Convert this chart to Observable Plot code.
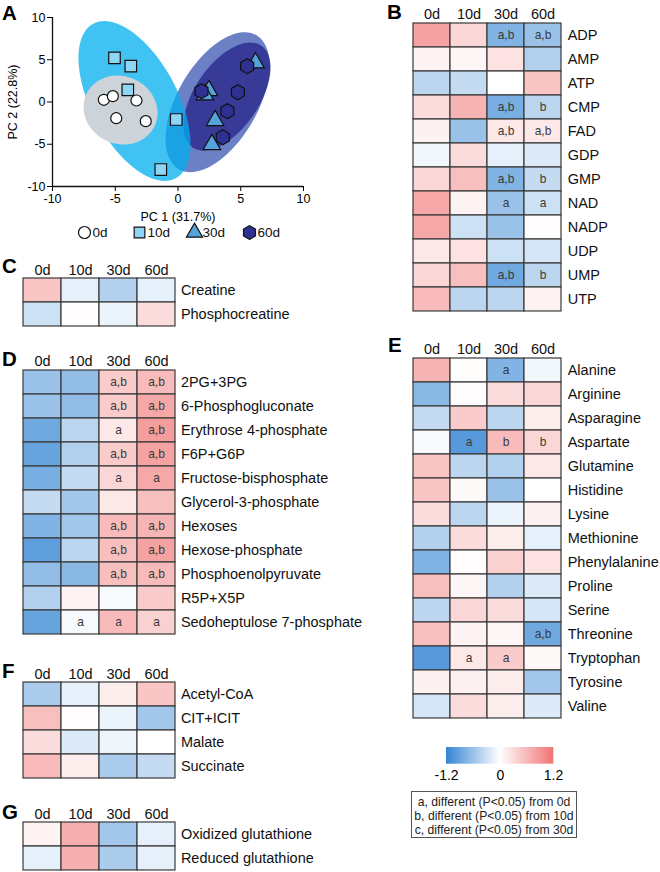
<!DOCTYPE html>
<html><head><meta charset="utf-8">
<script src="https://cdn.jsdelivr.net/npm/d3@7"></script>
<script src="https://cdn.jsdelivr.net/npm/@observablehq/plot@0.6"></script>
<style>
body{margin:0;background:#fff;font-family:"Liberation Sans",Arial,sans-serif;}
#root{position:relative;width:660px;height:872px;overflow:hidden;background:#fff;}
#cbar line{display:none}
#cbar text{font-size:14px;font-family:"Liberation Sans",Arial,sans-serif;fill:#000}
.box{position:absolute;box-sizing:border-box;border:1px solid #555;text-align:center;font-size:12.2px;line-height:14.3px;padding-top:3px;color:#222;}
</style></head>
<body><div id="root"></div>
<script>
const FONT = '"Liberation Sans", Arial, sans-serif';
// ---------- Panel A data ----------
const groups = ["0d","10d","30d","60d"];
const groupFill = ["#ffffff","#8fd6f6","#55a3db","#2e3192"];
const groupSymbol = ["circle","square","triangle","hexagon"];
const pc1_0d = [-5.91,-5.19,-3.31,-4.92,-2.57];
const pc2_0d = [0.26,0.69,0.18,-1.92,-2.27];
const pc1_10d = [-5.06,-3.76,-4.0,-0.14,-1.37];
const pc2_10d = [5.23,4.24,1.44,-2.07,-7.99];
const pc1_30d = [6.18,2.46,2.14,2.96,2.70];
const pc2_30d = [4.64,1.36,0.85,-2.19,-5.03];
const pc1_60d = [5.51,1.87,4.77,3.94,3.57];
const pc2_60d = [4.24,1.28,1.16,-1.09,-4.17];
// ellipse params (drawing order), semi-axes in PC1 units, angle in degrees
const ellGroup = ["30d","60d","10d","0d"];
const ellCx = [3.15,3.90,-3.47,-4.58];
const ellCy = [-0.02,0.65,0.12,-0.95];
const ellA = [6.17,4.89,6.98,3.0];
const ellB = [3.19,2.57,3.43,2.69];
const ellAngle = [60,56,-62,-25];
const ellFill = ["#6b80c5","#373b97","#00aeef","#cdd4d9"];
const ellOpacity = [1,1,0.75,1];
const pcTicks = [-10,-5,0,5,10];

// ---------- Heatmap data ----------
const days = ["0d","10d","30d","60d"];
const colorDomain = [-1.2,0,1.2];
const colorRange = ["#3585d3","#ffffff","#f07474"];

const bNames = ["ADP","AMP","ATP","CMP","FAD","GDP","GMP","NAD","NADP","UDP","UMP","UTP"];
const bValues = [[0.8,0.35,-0.75,-0.6],[0.1,0.08,0.25,-0.45],[-0.4,-0.35,0.0,0.5],[0.3,0.65,-0.8,-0.4],[0.12,-0.6,0.2,0.2],[-0.08,0.3,-0.15,-0.2],[0.35,0.55,-0.75,-0.35],[0.75,0.1,-0.6,-0.3],[0.75,-0.3,-0.6,0.02],[0.2,0.25,-0.3,-0.25],[0.35,0.55,-0.85,-0.4],[0.6,-0.4,-0.4,0.1]];
const bSig = [["","","a,b","a,b"],["","","",""],["","","",""],["","","a,b","b"],["","","a,b","a,b"],["","","",""],["","","a,b","b"],["","","a","a"],["","","",""],["","","",""],["","","a,b","b"],["","","",""]];

const cNames = ["Creatine","Phosphocreatine"];
const cValues = [[0.5,-0.15,-0.45,-0.15],[-0.3,0.02,-0.12,0.3]];
const cSig = [["","","",""],["","","",""]];

const dNames = ["2PG+3PG","6-Phosphogluconate","Erythrose 4-phosphate","F6P+G6P","Fructose-bisphosphate","Glycerol-3-phosphate","Hexoses","Hexose-phosphate","Phosphoenolpyruvate","R5P+X5P","Sedoheptulose 7-phosphate"];
const dValues = [[-0.6,-0.65,0.45,0.6],[-0.6,-0.65,0.45,0.75],[-0.85,-0.4,0.2,0.85],[-0.9,-0.45,0.45,0.8],[-0.8,-0.35,0.35,0.75],[-0.35,-0.55,0.2,0.55],[-0.75,-0.55,0.6,0.65],[-0.95,-0.4,0.55,0.8],[-0.65,-0.7,0.55,0.6],[-0.45,0.1,-0.05,0.45],[-0.9,-0.05,0.6,0.4]];
const dSig = [["","","a,b","a,b"],["","","a,b","a,b"],["","","a","a,b"],["","","a,b","a,b"],["","","a","a"],["","","",""],["","","a,b","a,b"],["","","a,b","a,b"],["","","a,b","a,b"],["","","",""],["","a","a","a"]];

const eNames = ["Alanine","Arginine","Asparagine","Aspartate","Glutamine","Histidine","Lysine","Methionine","Phenylalanine","Proline","Serine","Threonine","Tryptophan","Tyrosine","Valine"];
const eValues = [[0.65,0.03,-0.75,-0.08],[-0.7,0.02,0.3,0.35],[-0.35,0.45,-0.4,0.15],[-0.05,-1.0,0.6,0.35],[0.5,-0.4,-0.45,0.2],[0.5,0.05,-0.6,0.0],[0.3,-0.4,-0.12,0.12],[-0.45,0.3,0.15,-0.15],[-0.75,0.02,0.4,0.25],[0.55,0.08,-0.45,-0.2],[-0.4,0.35,0.3,-0.25],[0.55,0.1,0.08,-0.85],[-1.0,0.2,0.45,0.05],[0.12,0.12,0.15,-0.55],[-0.25,0.3,0.15,-0.2]];
const eSig = [["","","a",""],["","","",""],["","","",""],["","a","b","b"],["","","",""],["","","",""],["","","",""],["","","",""],["","","",""],["","","",""],["","","",""],["","","","a,b"],["","a","a",""],["","","",""],["","","",""]];

const fNames = ["Acetyl-CoA","CIT+ICIT","Malate","Succinate"];
const fValues = [[-0.5,-0.15,0.15,0.5],[0.55,0.02,-0.12,-0.55],[0.3,-0.2,-0.1,0.0],[0.6,0.15,-0.5,-0.35]];
const fSig = [["","","",""],["","","",""],["","","",""],["","","",""]];

const gNames = ["Oxidized glutathione","Reduced glutathione"];
const gValues = [[0.1,0.7,-0.55,-0.15],[-0.15,0.7,-0.5,-0.15]];
const gSig = [["","","",""],["","","",""]];

const noteLines = ["a, different (P<0.05) from 0d","b, different (P<0.05) from 10d","c, different (P<0.05) from 30d"];

// ---------- build ----------
const root = document.getElementById("root");
function place(el, left, top){ el.style.position="absolute"; el.style.left=left+"px"; el.style.top=top+"px"; root.append(el); }

// Panel A
const PW = 320, PH = 228, mL = 52, mR = 17, mT = 17, mB = 42;
const kAspect = ((PW-mL-mR)/20)/((PH-mT-mB)/20);
const points = [];
[[pc1_0d,pc2_0d],[pc1_10d,pc2_10d],[pc1_30d,pc2_30d],[pc1_60d,pc2_60d]].forEach(([xs,ys],gi)=>{
  xs.forEach((x,i)=>points.push({group:groups[gi], pc1:x, pc2:ys[i]}));
});
const ellMarks = ellGroup.map((g,i)=>{
  const th = ellAngle[i]*Math.PI/180;
  const pts = d3.range(0,361,4).map(deg=>{
    const t = deg*Math.PI/180;
    const u = ellA[i]*Math.cos(t)*Math.cos(th) - ellB[i]*Math.sin(t)*Math.sin(th);
    const v = ellA[i]*Math.cos(t)*Math.sin(th) + ellB[i]*Math.sin(t)*Math.cos(th);
    return {x: ellCx[i]+u, y: ellCy[i]+v*kAspect};
  });
  return Plot.line(pts,{x:"x",y:"y",fill:ellFill[i],fillOpacity:ellOpacity[i],stroke:"none",curve:"linear-closed"});
});
const pca = Plot.plot({
  width: PW, height: PH, marginLeft: mL, marginRight: mR, marginTop: mT, marginBottom: mB,
  style: {fontSize:"12.5px", fontFamily: FONT, overflow:"visible", background:"transparent"},
  x: {domain:[-10,10], ticks: pcTicks, tickSize:5, tickPadding:3, tickFormat:d=>String(d), label:"PC 1 (31.7%)", labelAnchor:"center", labelArrow:"none", labelOffset:34},
  y: {domain:[-10,10], ticks: pcTicks, tickSize:5, tickPadding:2, tickFormat:d=>String(d), label:"PC 2 (22.8%)", labelAnchor:"center", labelArrow:"none", labelOffset:44},
  color: {domain: groups, range: groupFill},
  symbol: {domain: groups, range: groupSymbol},
  marks: [
    ...ellMarks,
    Plot.ruleX([-10],{stroke:"#111",strokeWidth:1.3}),
    Plot.ruleY([-10],{stroke:"#111",strokeWidth:1.3}),
    Plot.dot(points.filter(d=>d.group==="0d"),{x:"pc1",y:"pc2",symbol:"group",fill:"group",stroke:"#111",strokeWidth:1.2,r:5.5}),
    Plot.dot(points.filter(d=>d.group!=="0d"),{x:"pc1",y:"pc2",symbol:"group",fill:"group",stroke:"#111",strokeWidth:1.2,r:6.5})
  ]
});
place(pca,0,0);

// Panel A legend
const leg = Plot.plot({
  width: 300, height: 20, margin: 0,
  style: {fontSize:"13.5px", fontFamily: FONT, overflow:"visible", background:"transparent"},
  x: {type:"point", domain: groups, range:[84,249], padding:0, axis:null},
  color: {domain: groups, range: groupFill},
  symbol: {domain: groups, range: groupSymbol},
  marks: [
    Plot.dot(groups,{x:d=>d, symbol:d=>d, fill:d=>d, stroke:"#111", strokeWidth:1.2, r: 6}),
    Plot.text(groups,{x:d=>d, text:d=>d, dx:8, textAnchor:"start", fill:"#111"})
  ]
});
place(leg,0,222);

// Heatmaps
const rowH = 24.17;
function heatmap(names, values, sigs, left, top, colW, mRight){
  const data = names.flatMap((n,i)=>days.map((d,j)=>({name:n, day:d, value:values[i][j], sig:sigs[i][j]})));
  const l=2, t=24, b=2;
  const W = colW*4, H = rowH*names.length;
  const p = Plot.plot({
    width: l+W+mRight, height: t+H+b, marginLeft:l, marginRight:mRight, marginTop:t, marginBottom:b,
    style: {fontSize:"14.5px", fontFamily: FONT, overflow:"visible", background:"transparent", color:"#111"},
    x: {domain: days, axis:"top", tickSize:0, tickPadding:3.5, label:null, padding:0},
    y: {domain: names, axis:"right", tickSize:0, tickPadding:5, label:null, padding:0},
    color: {type:"linear", domain: colorDomain, range: colorRange, clamp:true, interpolate:"rgb"},
    marks: [
      Plot.cell(data,{x:"day", y:"name", fill:"value", stroke:"#3a3a3a", strokeWidth:1.2, inset:0}),
      Plot.text(data,{x:"day", y:"name", text:"sig", fill:"#3a3a3a", fontSize:12})
    ]
  });
  place(p, left-l, top-t);
}
heatmap(bNames,bValues,bSig,411,21.7,37.8,95);
heatmap(cNames,cValues,cSig,23.3,277.7,38.1,140);
heatmap(dNames,dValues,dSig,23.3,369.3,38.1,200);
heatmap(eNames,eValues,eSig,411,356.7,37.8,95);
heatmap(fNames,fValues,fSig,23.3,681.5,38.1,140);
heatmap(gNames,gValues,gSig,23.3,822,38.1,160);

// Color bar
const cb = Plot.legend({
  color: {type:"linear", domain: colorDomain, range: colorRange, interpolate:"rgb"},
  width: 147.3, height: 36.7, marginLeft: 20, marginRight: 20, marginTop: 0, marginBottom: 20,
  ticks: colorDomain, tickSize: 3, tickFormat: d => d===0 ? "0" : d.toFixed(1), label: null
});
const cbWrap = document.createElement("div");
cbWrap.id = "cbar";
cbWrap.append(cb);
place(cbWrap, 426, 746.7);

// Note box
const box = document.createElement("div");
box.className = "box";
box.style.width = "166px"; box.style.height = "47.5px";
box.innerHTML = noteLines.map(s=>s.replace(/</g,"&lt;")).join("<br>");
place(box, 411, 790.5);

// Panel letters
const letters = [["A",2,20],["B",387,18.5],["C",2,273],["D",2,366],["E",388,352],["F",2,678],["G",2,819]];
const svgNS = "http://www.w3.org/2000/svg";
const ov = document.createElementNS(svgNS,"svg");
ov.setAttribute("width",660); ov.setAttribute("height",872);
ov.style.position="absolute"; ov.style.left="0"; ov.style.top="0"; ov.style.pointerEvents="none";
letters.forEach(([s,x,y])=>{
  const t = document.createElementNS(svgNS,"text");
  t.setAttribute("x",x); t.setAttribute("y",y);
  t.setAttribute("font-family","Liberation Sans, Arial, sans-serif");
  t.setAttribute("font-weight","bold"); t.setAttribute("font-size","20.5");
  t.textContent = s; ov.append(t);
});
root.append(ov);
</script>
</body></html>
